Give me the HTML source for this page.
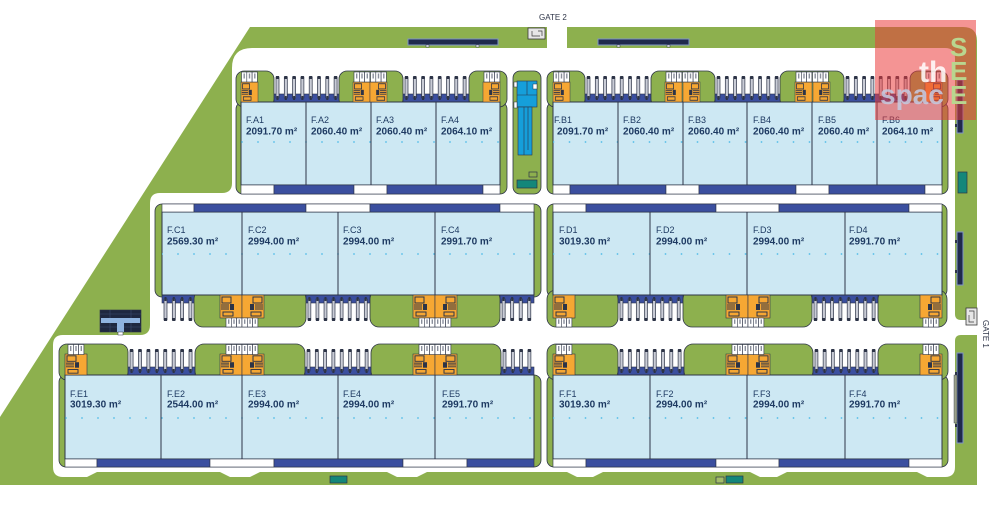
<!DOCTYPE html>
<html><head><meta charset="utf-8"><style>
html,body{margin:0;padding:0;background:#fff}
svg{display:block}
.l{font-family:"Liberation Sans",sans-serif;font-size:9px;fill:#1e3a62}
.a{font-family:"Liberation Sans",sans-serif;font-size:10px;font-weight:bold;fill:#1e3a62}
.g{font-family:"Liberation Sans",sans-serif;font-size:8px;fill:#2d3447}
</style></head><body>
<svg width="996" height="509" viewBox="0 0 996 509" xmlns="http://www.w3.org/2000/svg" xmlns:xlink="http://www.w3.org/1999/xlink">
<defs>
<pattern id="dA" x="2" y="0" width="16" height="4" patternUnits="userSpaceOnUse"><circle cx="0" cy="2" r="0.9" fill="#55bde8"/><circle cx="16" cy="2" r="0.9" fill="#55bde8"/></pattern>
<pattern id="dB" x="9.5" y="0" width="16" height="4" patternUnits="userSpaceOnUse"><circle cx="0" cy="2" r="0.9" fill="#55bde8"/><circle cx="16" cy="2" r="0.9" fill="#55bde8"/></pattern>
<g id="tr"><rect x="0" y="6" width="3" height="21" fill="#c9ccd6" stroke="#2d3447" stroke-width=".7"/><rect x="0" y="5" width="3" height="3" fill="#2d3447"/><rect x="0.5" y="25" width="2" height="4" fill="#2d3447"/></g>
<g id="d8"><rect x="0" y="23" width="66" height="8" fill="#3b4f9f" stroke="#2d3447" stroke-width=".6"/>
<use href="#tr" x="2"/><use href="#tr" x="10.3"/><use href="#tr" x="18.6"/><use href="#tr" x="26.9"/><use href="#tr" x="35.2"/><use href="#tr" x="43.5"/><use href="#tr" x="51.8"/><use href="#tr" x="60.1"/></g>
<g id="d4"><rect x="0" y="23" width="33" height="8" fill="#3b4f9f" stroke="#2d3447" stroke-width=".6"/>
<use href="#tr" x="2"/><use href="#tr" x="10.3"/><use href="#tr" x="18.6"/><use href="#tr" x="26.9"/></g>
<g id="core"><rect width="22" height="23" fill="#f6a733" stroke="#2d3447" stroke-width=".6"/>
<rect x="2" y="2" width="9" height="6" fill="none" stroke="#2d3447" stroke-width="1"/>
<path d="M1 10h8M1 12h8M1 14h8" stroke="#2d3447" stroke-width="1"/>
<rect x="10" y="9" width="4" height="6" fill="#2d3447"/>
<rect x="3" y="17" width="10" height="4" fill="none" stroke="#2d3447" stroke-width="1"/></g>
<g id="wb"><g fill="#fff" stroke="#2d3447" stroke-width=".6"><rect x="0" y="0" width="5.3" height="10"/><rect x="5.3" y="0" width="5.3" height="10"/><rect x="10.6" y="0" width="5.3" height="10"/></g>
<g fill="#8a8f9c"><rect x="2" y="1.5" width="1.4" height="5"/><rect x="7.3" y="1.5" width="1.4" height="5"/><rect x="12.6" y="1.5" width="1.4" height="5"/></g></g>
</defs>

<rect width="996" height="509" fill="#fff"/>
<!-- green landscape -->
<path d="M250,27 L963,27 Q977,27 977,41 L977,485 L0,485 L0,417 Z" fill="#8db04e"/>
<!-- white road -->
<path d="M232,68 Q232,48 252,48 L547,48 L547,20 L567,20 L567,48 L945,48 Q955,48 955,58 L955,314 Q955,320 961,320 L996,320 L996,335 L961,335 Q955,335 955,341 L955,467 Q955,477 945,477 L927,477 L917,472 L787,472 L777,477 L760,477 L750,472 L603,472 L593,477 L577,477 L567,472 L427,472 L417,477 L397,477 L387,472 L260,472 L250,477 L230,477 L220,472 L97,472 L87,477 L63,477 Q53,477 53,467 L53,345 Q53,335 63,335 L140,335 Q150,335 150,325 L150,203 Q150,193 160,193 L222,193 Q232,193 232,183 Z" fill="#fff"/>

<!-- top band bars -->
<g fill="#1f2a4d" stroke="#7f95c8" stroke-width="1">
<rect x="408" y="39" width="90" height="6"/><rect x="598" y="39" width="91" height="6"/>
<rect x="957" y="80" width="6" height="53"/><rect x="957" y="232" width="6" height="53"/><rect x="957" y="353" width="6" height="90"/>
</g>
<g fill="#fff" stroke="#2d3447" stroke-width=".5">
<rect x="426" y="45" width="3" height="2"/><rect x="476" y="45" width="3" height="2"/><rect x="617" y="45" width="3" height="2"/><rect x="667" y="45" width="3" height="2"/>
</g>
<g fill="#2d3447"><rect x="955" y="124" width="2" height="3"/><rect x="955" y="240" width="2" height="3"/><rect x="955" y="270" width="2" height="3"/><rect x="955" y="372" width="2" height="3"/><rect x="955" y="424" width="2" height="3"/></g>
<rect x="954" y="375" width="3" height="48" fill="#9aa08a" stroke="#2d3447" stroke-width=".4"/>
<rect x="958" y="172" width="9" height="21" fill="#13877a" stroke="#2d3447" stroke-width=".7"/>

<!-- gates -->
<rect x="528" y="28" width="17" height="11" fill="#e6e6e6" stroke="#3a3a3a" stroke-width=".8"/>
<path d="M532 31v5h8M538 31h4v5" fill="none" stroke="#3a3a3a" stroke-width=".7"/>
<text class="g" x="539" y="20">GATE 2</text>
<rect x="966" y="308" width="11" height="17" fill="#e6e6e6" stroke="#3a3a3a" stroke-width=".8"/>
<path d="M969 311h5v8M969 315v7h5" fill="none" stroke="#3a3a3a" stroke-width=".7"/>
<text class="g" transform="translate(983,320) rotate(90)">GATE 1</text>

<!-- solar panel -->
<rect x="100" y="310" width="41" height="22" fill="#1e2740" stroke="#2d3447" stroke-width=".6"/>
<path d="M100 314h41M100 327h41M110 310v22M131 310v22" stroke="#3a4a70" stroke-width=".6"/>
<rect x="101" y="318" width="39" height="5" fill="#8fb3e0"/>
<rect x="117" y="318" width="7" height="14" fill="#8fb3e0"/>
<rect x="118" y="332" width="5" height="3" fill="#fff" stroke="#2d3447" stroke-width=".5"/>

<!-- small rects bottom -->
<rect x="330" y="476" width="17" height="7" fill="#13877a" stroke="#2d3447" stroke-width=".7"/>
<rect x="716" y="477" width="8" height="6" fill="#a4bd6a" stroke="#2d3447" stroke-width=".7"/>
<rect x="726" y="476" width="17" height="7" fill="#13877a" stroke="#2d3447" stroke-width=".7"/>

<!-- ============ BLOCK A ============ -->
<rect x="236" y="102" width="271" height="92" rx="7" fill="#8db04e" stroke="#2d3447" stroke-width=".8"/>
<use href="#d8" x="274" y="71"/><use href="#d8" x="403" y="71"/>
<g fill="#8db04e" stroke="#2d3447" stroke-width=".8">
<rect x="236" y="71" width="38" height="36" rx="8"/><rect x="339" y="71" width="64" height="36" rx="8"/><rect x="469" y="71" width="38" height="36" rx="8"/>
</g>
<rect x="241" y="102" width="259" height="83" fill="#cde8f3" stroke="#2d3447"/>
<rect x="241" y="141" width="259" height="4" fill="url(#dA)"/>
<path d="M306 102V185M371 102V185M436 102V185" stroke="#2d3447"/>
<g stroke="#2d3447" stroke-width=".6">
<rect x="241" y="185" width="33" height="9" fill="#fff"/><rect x="274" y="185" width="80" height="9" fill="#3b4f9f"/><rect x="354" y="185" width="33" height="9" fill="#fff"/><rect x="387" y="185" width="96" height="9" fill="#3b4f9f"/><rect x="483" y="185" width="17" height="9" fill="#fff"/>
</g>
<use href="#core" transform="translate(241,82) scale(.773,.87)"/>
<use href="#core" transform="translate(353,82) scale(.773,.87)"/><use href="#core" transform="translate(387,82) scale(-.773,.87)"/>
<use href="#core" transform="translate(500,82) scale(-.773,.87)"/>
<use href="#wb" x="241.5" y="72"/><use href="#wb" x="354" y="72"/><use href="#wb" x="370.5" y="72"/><use href="#wb" x="484" y="72"/>
<text class="l" x="246" y="123">F.A1</text><text class="a" x="246" y="134.5">2091.70 m²</text>
<text class="l" x="311" y="123">F.A2</text><text class="a" x="311" y="134.5">2060.40 m²</text>
<text class="l" x="376" y="123">F.A3</text><text class="a" x="376" y="134.5">2060.40 m²</text>
<text class="l" x="441" y="123">F.A4</text><text class="a" x="441" y="134.5">2064.10 m²</text>

<!-- central strip -->
<rect x="513" y="71" width="28" height="123" rx="7" fill="#8db04e" stroke="#2d3447" stroke-width=".8"/>
<rect x="517" y="81" width="20" height="26" fill="#159fda" stroke="#2d3447" stroke-width=".6"/>
<rect x="518" y="107" width="14" height="48" fill="#159fda" stroke="#2d3447" stroke-width=".6"/>
<path d="M524 107V155M528 107V150M517 95h20M527 81v14" stroke="#2d3447" stroke-width=".6"/>
<g fill="#fff" stroke="#2d3447" stroke-width=".5"><rect x="514" y="82" width="3" height="5"/><rect x="514" y="102" width="3" height="6"/><rect x="533" y="84" width="4" height="5"/></g>
<rect x="529" y="172" width="8" height="5" fill="none" stroke="#2d3447" stroke-width=".7"/>
<rect x="517" y="180" width="20" height="8" fill="#13877a" stroke="#2d3447" stroke-width=".7"/>

<!-- ============ BLOCK B ============ -->
<rect x="547" y="102" width="401" height="92" rx="7" fill="#8db04e" stroke="#2d3447" stroke-width=".8"/>
<use href="#d8" x="585" y="71"/><use href="#d8" x="715" y="71"/><use href="#d8" x="844" y="71"/>
<g fill="#8db04e" stroke="#2d3447" stroke-width=".8">
<rect x="547" y="71" width="38" height="36" rx="8"/><rect x="651" y="71" width="64" height="36" rx="8"/><rect x="780" y="71" width="64" height="36" rx="8"/><rect x="910" y="71" width="38" height="36" rx="8"/>
</g>
<rect x="553" y="102" width="389" height="83" fill="#cde8f3" stroke="#2d3447"/>
<rect x="553" y="141" width="389" height="4" fill="url(#dB)"/>
<path d="M618 102V185M683 102V185M747 102V185M812 102V185M877 102V185" stroke="#2d3447"/>
<g stroke="#2d3447" stroke-width=".6">
<rect x="553" y="185" width="17" height="9" fill="#fff"/><rect x="570" y="185" width="96" height="9" fill="#3b4f9f"/><rect x="666" y="185" width="33" height="9" fill="#fff"/><rect x="699" y="185" width="97" height="9" fill="#3b4f9f"/><rect x="796" y="185" width="33" height="9" fill="#fff"/><rect x="829" y="185" width="96" height="9" fill="#3b4f9f"/><rect x="925" y="185" width="17" height="9" fill="#fff"/>
</g>
<use href="#core" transform="translate(553,82) scale(.773,.87)"/>
<use href="#core" transform="translate(665,82) scale(.773,.87)"/><use href="#core" transform="translate(700,82) scale(-.773,.87)"/>
<use href="#core" transform="translate(795,82) scale(.773,.87)"/><use href="#core" transform="translate(830,82) scale(-.773,.87)"/>
<use href="#core" transform="translate(942,82) scale(-.773,.87)"/>
<use href="#wb" x="553.5" y="72"/><use href="#wb" x="666" y="72"/><use href="#wb" x="682.5" y="72"/><use href="#wb" x="796" y="72"/><use href="#wb" x="812.5" y="72"/><use href="#wb" x="926" y="72"/>
<text class="l" x="554" y="123">F.B1</text><text class="a" x="557" y="134.5">2091.70 m²</text>
<text class="l" x="623" y="123">F.B2</text><text class="a" x="623" y="134.5">2060.40 m²</text>
<text class="l" x="688" y="123">F.B3</text><text class="a" x="688" y="134.5">2060.40 m²</text>
<text class="l" x="753" y="123">F.B4</text><text class="a" x="753" y="134.5">2060.40 m²</text>
<text class="l" x="818" y="123">F.B5</text><text class="a" x="818" y="134.5">2060.40 m²</text>
<text class="l" x="882" y="123">F.B6</text><text class="a" x="882" y="134.5">2064.10 m²</text>

<!-- ============ BLOCK C ============ -->
<rect x="155" y="204" width="386" height="93" rx="7" fill="#8db04e" stroke="#2d3447" stroke-width=".8"/>
<use href="#d4" transform="translate(162,326) scale(1,-1)"/>
<use href="#d8" transform="translate(306,326) scale(.97,-1)"/>
<use href="#d4" transform="translate(500,326) scale(1.03,-1)"/>
<g fill="#8db04e" stroke="#2d3447" stroke-width=".8">
<rect x="194" y="290" width="112" height="37" rx="9"/><rect x="370" y="290" width="130" height="37" rx="9"/>
</g>
<rect x="162" y="212" width="372" height="83" fill="#cde8f3" stroke="#2d3447"/>
<rect x="162" y="252" width="372" height="4" fill="url(#dA)"/>
<path d="M242 212V295M338 212V295M435 212V295" stroke="#2d3447"/>
<g stroke="#2d3447" stroke-width=".6">
<rect x="162" y="204" width="32" height="8" fill="#fff"/><rect x="194" y="204" width="112" height="8" fill="#3b4f9f"/><rect x="306" y="204" width="64" height="8" fill="#fff"/><rect x="370" y="204" width="130" height="8" fill="#3b4f9f"/><rect x="500" y="204" width="34" height="8" fill="#fff"/>
</g>
<use href="#core" x="220" y="295"/><use href="#core" transform="translate(264,295) scale(-1,1)"/>
<use href="#core" x="413" y="295"/><use href="#core" transform="translate(457,295) scale(-1,1)"/>
<use href="#wb" transform="translate(226,318) scale(1,.9)"/><use href="#wb" transform="translate(242,318) scale(1,.9)"/>
<use href="#wb" transform="translate(419,318) scale(1,.9)"/><use href="#wb" transform="translate(435,318) scale(1,.9)"/>
<text class="l" x="167" y="233">F.C1</text><text class="a" x="167" y="244.5">2569.30 m²</text>
<text class="l" x="248" y="233">F.C2</text><text class="a" x="248" y="244.5">2994.00 m²</text>
<text class="l" x="343" y="233">F.C3</text><text class="a" x="343" y="244.5">2994.00 m²</text>
<text class="l" x="441" y="233">F.C4</text><text class="a" x="441" y="244.5">2991.70 m²</text>

<!-- ============ BLOCK D ============ -->
<rect x="547" y="204" width="400" height="93" rx="7" fill="#8db04e" stroke="#2d3447" stroke-width=".8"/>
<use href="#d8" transform="translate(618,326) scale(.985,-1)"/>
<use href="#d8" transform="translate(812,326) scale(1,-1)"/>
<g fill="#8db04e" stroke="#2d3447" stroke-width=".8">
<rect x="547" y="290" width="71" height="37" rx="9"/><rect x="683" y="290" width="129" height="37" rx="9"/><rect x="878" y="290" width="69" height="37" rx="9"/>
</g>
<rect x="553" y="212" width="389" height="83" fill="#cde8f3" stroke="#2d3447"/>
<rect x="553" y="252" width="389" height="4" fill="url(#dB)"/>
<path d="M650 212V295M747 212V295M845 212V295" stroke="#2d3447"/>
<g stroke="#2d3447" stroke-width=".6">
<rect x="553" y="204" width="33" height="8" fill="#fff"/><rect x="586" y="204" width="130" height="8" fill="#3b4f9f"/><rect x="716" y="204" width="63" height="8" fill="#fff"/><rect x="779" y="204" width="130" height="8" fill="#3b4f9f"/><rect x="909" y="204" width="33" height="8" fill="#fff"/>
</g>
<use href="#core" x="553" y="295"/>
<use href="#core" x="726" y="295"/><use href="#core" transform="translate(770,295) scale(-1,1)"/>
<use href="#core" transform="translate(942,295) scale(-1,1)"/>
<use href="#wb" transform="translate(556,318) scale(1,.9)"/>
<use href="#wb" transform="translate(732,318) scale(1,.9)"/><use href="#wb" transform="translate(748,318) scale(1,.9)"/>
<use href="#wb" transform="translate(923,318) scale(1,.9)"/>
<text class="l" x="559" y="233">F.D1</text><text class="a" x="559" y="244.5">3019.30 m²</text>
<text class="l" x="656" y="233">F.D2</text><text class="a" x="656" y="244.5">2994.00 m²</text>
<text class="l" x="753" y="233">F.D3</text><text class="a" x="753" y="244.5">2994.00 m²</text>
<text class="l" x="849" y="233">F.D4</text><text class="a" x="849" y="244.5">2991.70 m²</text>

<!-- ============ BLOCK E ============ -->
<rect x="59" y="375" width="482" height="92" rx="7" fill="#8db04e" stroke="#2d3447" stroke-width=".8"/>
<use href="#d8" transform="translate(128,344) scale(1.015,1)"/><use href="#d8" x="305" y="344"/><use href="#d4" x="501" y="344"/>
<g fill="#8db04e" stroke="#2d3447" stroke-width=".8">
<rect x="59" y="344" width="69" height="36" rx="8"/><rect x="195" y="344" width="110" height="36" rx="9"/><rect x="371" y="344" width="130" height="36" rx="9"/>
</g>
<rect x="65" y="375" width="469" height="84" fill="#cde8f3" stroke="#2d3447"/>
<rect x="65" y="415" width="469" height="4" fill="url(#dA)"/>
<path d="M161 375V459M242 375V459M338 375V459M435 375V459" stroke="#2d3447"/>
<g stroke="#2d3447" stroke-width=".6">
<rect x="65" y="459" width="32" height="8" fill="#fff"/><rect x="97" y="459" width="113" height="8" fill="#3b4f9f"/><rect x="210" y="459" width="64" height="8" fill="#fff"/><rect x="274" y="459" width="129" height="8" fill="#3b4f9f"/><rect x="403" y="459" width="64" height="8" fill="#fff"/><rect x="467" y="459" width="67" height="8" fill="#3b4f9f"/>
</g>
<use href="#core" transform="translate(65,354) scale(1,.913)"/>
<use href="#core" transform="translate(220,354) scale(1,.913)"/><use href="#core" transform="translate(264,354) scale(-1,.913)"/>
<use href="#core" transform="translate(413,354) scale(1,.913)"/><use href="#core" transform="translate(457,354) scale(-1,.913)"/>
<use href="#wb" x="68" y="344.5"/><use href="#wb" x="226" y="344.5"/><use href="#wb" x="242" y="344.5"/><use href="#wb" x="419" y="344.5"/><use href="#wb" x="435" y="344.5"/>
<text class="l" x="70" y="397">F.E1</text><text class="a" x="70" y="407.5">3019.30 m²</text>
<text class="l" x="167" y="397">F.E2</text><text class="a" x="167" y="407.5">2544.00 m²</text>
<text class="l" x="248" y="397">F.E3</text><text class="a" x="248" y="407.5">2994.00 m²</text>
<text class="l" x="343" y="397">F.E4</text><text class="a" x="343" y="407.5">2994.00 m²</text>
<text class="l" x="442" y="397">F.E5</text><text class="a" x="442" y="407.5">2991.70 m²</text>

<!-- ============ BLOCK F ============ -->
<rect x="547" y="375" width="401" height="92" rx="7" fill="#8db04e" stroke="#2d3447" stroke-width=".8"/>
<use href="#d8" x="618" y="344"/><use href="#d8" transform="translate(813,344) scale(.985,1)"/>
<g fill="#8db04e" stroke="#2d3447" stroke-width=".8">
<rect x="547" y="344" width="71" height="36" rx="9"/><rect x="684" y="344" width="129" height="36" rx="9"/><rect x="878" y="344" width="70" height="36" rx="9"/>
</g>
<rect x="553" y="375" width="389" height="84" fill="#cde8f3" stroke="#2d3447"/>
<rect x="553" y="415" width="389" height="4" fill="url(#dB)"/>
<path d="M650 375V459M747 375V459M845 375V459" stroke="#2d3447"/>
<g stroke="#2d3447" stroke-width=".6">
<rect x="553" y="459" width="33" height="8" fill="#fff"/><rect x="586" y="459" width="130" height="8" fill="#3b4f9f"/><rect x="716" y="459" width="63" height="8" fill="#fff"/><rect x="779" y="459" width="130" height="8" fill="#3b4f9f"/><rect x="909" y="459" width="33" height="8" fill="#fff"/>
</g>
<use href="#core" transform="translate(553,354) scale(1,.913)"/>
<use href="#core" transform="translate(726,354) scale(1,.913)"/><use href="#core" transform="translate(770,354) scale(-1,.913)"/>
<use href="#core" transform="translate(942,354) scale(-1,.913)"/>
<use href="#wb" x="556" y="344.5"/><use href="#wb" x="732" y="344.5"/><use href="#wb" x="748" y="344.5"/><use href="#wb" x="923" y="344.5"/>
<text class="l" x="559" y="397">F.F1</text><text class="a" x="559" y="407.5">3019.30 m²</text>
<text class="l" x="656" y="397">F.F2</text><text class="a" x="656" y="407.5">2994.00 m²</text>
<text class="l" x="753" y="397">F.F3</text><text class="a" x="753" y="407.5">2994.00 m²</text>
<text class="l" x="849" y="397">F.F4</text><text class="a" x="849" y="407.5">2991.70 m²</text>

<!-- watermark -->
<rect x="875" y="20" width="101" height="100" fill="#eb3c3c" fill-opacity=".55"/>
<text x="919" y="82" font-family="Liberation Sans, sans-serif" font-size="30" font-weight="bold" fill="#ffffff" fill-opacity=".85">th</text>
<text x="880" y="104" font-family="Liberation Sans, sans-serif" font-size="28" font-weight="bold" fill="#c4c6dc" fill-opacity=".9">spac</text>
<text x="950" y="56" font-family="Liberation Sans, sans-serif" font-size="26" font-weight="bold" fill="#b9d68f">S</text>
<text x="950" y="80" font-family="Liberation Sans, sans-serif" font-size="26" font-weight="bold" fill="#b9d68f">E</text>
<text x="950" y="104" font-family="Liberation Sans, sans-serif" font-size="26" font-weight="bold" fill="#b9d68f">E</text>
</svg>
</body></html>
